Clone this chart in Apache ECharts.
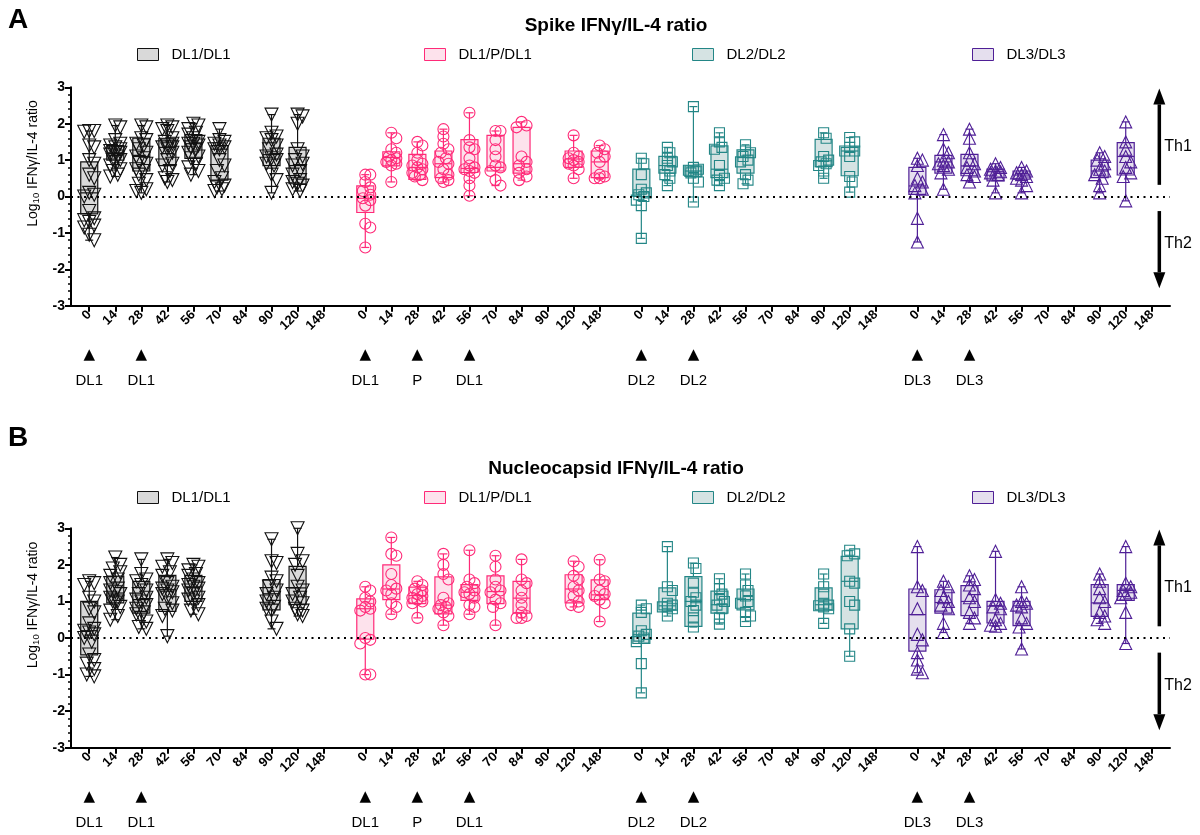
<!DOCTYPE html>
<html><head><meta charset="utf-8">
<script src="https://cdn.jsdelivr.net/npm/echarts@6/dist/echarts.min.js"></script>
<style>html,body{margin:0;padding:0;background:#fff}#c{width:1200px;height:835px}</style>
</head><body><div id="c"></div>
<script>
// ---------- DATA ----------
const tickLabels = ['0','14','28','42','56','70','84','90','120','148'];
const groupNames = ['DL1/DL1','DL1/P/DL1','DL2/DL2','DL3/DL3'];
// vaccination markers per group: [day, label]
const vaccDL1 = [['0','DL1'],['28','DL1']];
const vaccDL1P = [['0','DL1'],['28','P'],['56','DL1']];
const vaccDL2 = [['0','DL2'],['28','DL2']];
const vaccDL3 = [['0','DL3'],['28','DL3']];
const panelTitles = ['Spike IFNγ/IL-4 ratio','Nucleocapsid IFNγ/IL-4 ratio'];
const panelLetters = ['A','B'];
// Th1 / Th2 arrows: [label, arrow start, arrow tip, label y]
const thArrows = [['Th1', 0.32, 2.97, 1.37], ['Th2', -0.4, -2.52, -1.29]];
// each row: [day, Q1, median, Q3, individual values]
const spikeDL1 = [
 ['0',-0.48,0.1,0.95,[1.8,1.8,1.78,1.4,1.35,1.0,0.9,0.6,0.5,0.1,0.05,0.0,-0.4,-0.6,-0.65,-0.7,-0.8,-0.85,-1.05,-1.2]],
 ['14',1.0,1.2,1.4,[1.95,1.9,1.55,1.45,1.4,1.35,1.3,1.25,1.2,1.2,1.15,1.1,1.0,1.0,0.95,0.85,0.75,0.7,0.6,0.55]],
 ['28',0.7,1.1,1.6,[1.95,1.9,1.6,1.55,1.45,1.4,1.3,1.2,1.1,1.05,0.95,0.9,0.75,0.7,0.6,0.45,0.35,0.2,0.15,0.1]],
 ['42',0.85,1.35,1.6,[1.95,1.9,1.85,1.8,1.6,1.5,1.45,1.4,1.35,1.35,1.3,1.2,1.0,0.9,0.85,0.7,0.5,0.45,0.4]],
 ['56',1.05,1.45,1.7,[2.0,1.95,1.85,1.75,1.7,1.6,1.5,1.45,1.45,1.4,1.35,1.3,1.2,1.1,1.05,0.9,0.8,0.7,0.6]],
 ['70',0.45,1.3,1.4,[1.85,1.55,1.5,1.45,1.4,1.35,1.3,1.3,1.0,0.85,0.7,0.5,0.4,0.3,0.25,0.2,0.15]],
 ['90',0.85,1.15,1.6,[2.25,1.75,1.65,1.6,1.55,1.4,1.3,1.15,1.1,1.05,1.0,0.9,0.85,0.6,0.45,0.1]],
 ['120',0.35,0.85,1.35,[2.25,2.2,2.0,1.3,1.1,1.0,0.9,0.85,0.7,0.6,0.45,0.4,0.35,0.3,0.2,0.15]]
];
const spikeDL1P = [
 ['0',-0.44,-0.05,0.29,[0.6,0.6,0.4,0.25,0.15,0.05,-0.05,-0.1,-0.25,-0.75,-0.85,-1.4]],
 ['14',0.84,1.07,1.23,[1.75,1.6,1.3,1.2,1.1,1.05,1.0,0.95,0.9,0.85,0.4]],
 ['28',0.47,0.8,1.16,[1.5,1.4,1.2,1.0,0.9,0.85,0.8,0.75,0.65,0.6,0.55,0.45]],
 ['42',0.52,0.9,1.25,[1.85,1.65,1.45,1.3,1.2,1.05,0.95,0.9,0.75,0.6,0.5,0.45,0.4]],
 ['56',0.66,0.77,1.56,[2.3,1.55,1.35,1.3,1.05,0.85,0.8,0.75,0.7,0.65,0.5,0.3,0.02]],
 ['70',0.7,0.8,1.68,[1.8,1.8,1.55,1.3,1.1,0.85,0.8,0.7,0.45,0.3]],
 ['84',0.64,0.9,1.9,[2.05,1.95,1.9,1.1,0.95,0.85,0.75,0.65,0.55,0.45]],
 ['120',0.8,1.03,1.25,[1.68,1.2,1.1,1.05,1.0,0.95,0.9,0.85,0.75,0.5]],
 ['148',0.52,0.95,1.25,[1.4,1.3,1.2,1.1,0.95,0.6,0.55,0.5,0.5]]
];
const spikeDL2 = [
 ['0',0.0,0.1,0.75,[1.05,0.9,0.6,0.2,0.1,0.05,0.0,-0.1,-0.25,-1.15]],
 ['14',0.64,0.85,1.1,[1.35,1.2,1.05,0.95,0.85,0.7,0.6,0.5,0.3]],
 ['28',0.55,0.7,0.84,[2.47,0.8,0.75,0.72,0.7,0.68,0.65,0.5,0.4,-0.15]],
 ['42',0.52,0.75,1.39,[1.75,1.5,1.35,1.3,0.85,0.6,0.5,0.45,0.3]],
 ['56',0.64,1.07,1.28,[1.42,1.25,1.2,1.1,1.0,0.95,0.6,0.45,0.35]],
 ['90',0.82,0.98,1.57,[1.75,1.6,1.1,1.0,0.95,0.9,0.85,0.7,0.5]],
 ['120',0.57,1.25,1.35,[1.62,1.5,1.35,1.25,1.25,1.1,0.55,0.4,0.12]]
];
const spikeDL3 = [
 ['0',0.06,0.29,0.8,[1.05,1.0,0.85,0.5,0.4,0.3,0.2,0.1,-0.6,-1.25]],
 ['14',0.64,0.95,1.13,[1.7,1.3,1.2,1.0,0.95,0.9,0.85,0.75,0.65,0.2]],
 ['28',0.57,0.84,1.16,[1.85,1.6,1.2,1.0,0.9,0.8,0.7,0.6,0.55,0.4]],
 ['42',0.43,0.68,0.75,[0.9,0.8,0.75,0.7,0.68,0.65,0.6,0.45,0.1]],
 ['56',0.48,0.59,0.7,[0.8,0.7,0.65,0.6,0.55,0.5,0.45,0.3,0.1]],
 ['90',0.52,0.7,1.0,[1.2,1.1,1.0,0.9,0.75,0.7,0.6,0.5,0.3,0.1]],
 ['120',0.59,1.1,1.48,[2.05,1.5,1.3,1.1,0.95,0.8,0.65,0.55,-0.12]]
];
const nucDL1 = [
 ['0',-0.46,0.2,1.0,[1.55,1.5,1.45,1.1,1.0,0.8,0.7,0.4,0.25,0.2,0.15,0.1,0.0,-0.1,-0.45,-0.6,-0.7,-0.85,-1.0,-1.05]],
 ['14',0.96,1.23,1.69,[2.2,2.0,1.9,1.8,1.7,1.6,1.5,1.35,1.3,1.25,1.2,1.1,1.0,1.0,0.95,0.85,0.75,0.6,0.5]],
 ['28',0.68,1.05,1.55,[2.15,1.75,1.6,1.55,1.45,1.3,1.2,1.1,1.05,1.0,0.9,0.8,0.7,0.65,0.55,0.45,0.3,0.25]],
 ['42',0.73,1.32,1.71,[2.15,2.05,1.95,1.8,1.7,1.5,1.4,1.35,1.3,1.25,1.2,1.1,0.95,0.8,0.75,0.6,0.05]],
 ['56',1.0,1.4,1.71,[2.0,1.95,1.85,1.75,1.7,1.6,1.5,1.45,1.4,1.35,1.3,1.2,1.1,1.05,1.0,0.9,0.75,0.65]],
 ['90',0.77,1.21,1.6,[2.7,2.1,2.05,1.65,1.55,1.4,1.3,1.2,1.1,1.0,0.85,0.8,0.75,0.45,0.25]],
 ['120',0.91,1.37,1.96,[3.0,2.3,2.1,2.0,1.7,1.4,1.3,1.2,1.1,1.0,0.95,0.8,0.75,0.65,0.6]]
];
const nucDL1P = [
 ['0',-0.03,0.8,1.07,[1.4,1.3,1.1,1.0,0.85,0.8,0.75,0.0,-0.05,-0.15,-1.0,-1.0]],
 ['14',1.05,1.34,2.0,[2.75,2.3,2.25,1.75,1.45,1.35,1.3,1.2,0.95,0.85,0.65]],
 ['28',0.94,1.16,1.39,[1.55,1.45,1.35,1.3,1.2,1.15,1.1,1.05,1.0,0.95,0.55]],
 ['42',0.66,0.9,1.67,[2.3,2.0,1.75,1.6,1.1,0.95,0.9,0.85,0.8,0.7,0.6,0.35]],
 ['56',1.03,1.25,1.46,[2.4,1.6,1.5,1.4,1.3,1.25,1.2,1.1,0.9,0.85,0.65]],
 ['70',0.94,1.27,1.7,[2.25,1.95,1.6,1.4,1.3,1.25,1.05,0.95,0.85,0.35]],
 ['84',0.68,1.09,1.55,[2.15,1.6,1.5,1.3,1.1,0.9,0.7,0.6,0.55,0.55]],
 ['120',0.96,1.34,1.73,[2.1,1.95,1.7,1.6,1.4,1.3,1.15,1.0,0.9,0.85]],
 ['148',1.05,1.18,1.59,[2.14,1.6,1.55,1.3,1.2,1.15,1.05,0.95,0.45]]
];
const nucDL2 = [
 ['0',-0.15,0.09,0.68,[0.9,0.8,0.7,0.2,0.1,0.05,0.0,-0.1,-0.7,-1.5]],
 ['14',0.77,0.88,1.37,[2.5,1.4,1.3,0.95,0.9,0.85,0.85,0.8,0.6]],
 ['28',0.32,1.0,1.68,[2.05,1.9,1.5,1.25,1.1,1.0,0.9,0.75,0.55,0.3]],
 ['42',0.68,0.91,1.28,[1.62,1.35,1.2,1.05,1.0,0.9,0.8,0.55,0.38]],
 ['56',0.77,1.05,1.34,[1.75,1.45,1.3,1.15,1.0,0.95,0.7,0.6,0.45]],
 ['90',0.77,0.91,1.37,[1.75,1.4,1.2,0.95,0.9,0.88,0.85,0.8,0.4]],
 ['120',0.25,1.55,2.23,[2.4,2.3,2.25,1.55,1.5,1.0,0.9,0.25,-0.5]]
];
const nucDL3 = [
 ['0',-0.36,0.64,1.34,[2.5,1.4,1.3,0.8,0.1,-0.05,-0.4,-0.6,-0.85,-0.95]],
 ['14',0.68,0.97,1.32,[1.55,1.4,1.3,1.1,1.0,0.9,0.8,0.4,0.15]],
 ['28',0.61,1.0,1.43,[1.7,1.6,1.45,1.35,1.1,1.0,0.7,0.55,0.4]],
 ['42',0.41,0.87,1.0,[2.37,1.05,0.95,0.85,0.8,0.5,0.4,0.35,0.32]],
 ['56',0.34,0.88,1.0,[1.4,1.0,0.95,0.9,0.85,0.55,0.4,0.3,-0.3]],
 ['90',0.59,0.96,1.46,[1.75,1.55,1.35,1.1,1.0,0.7,0.6,0.5,0.4]],
 ['120',1.03,1.3,1.46,[2.5,1.5,1.4,1.3,1.25,1.2,1.1,0.7,-0.15]]
];

// ---------- LAYOUT / STYLE ----------
const FONT = '"Liberation Sans", Arial, sans-serif';
const groupOffsets = [0, 10.6, 21.2, 31.8];
const styles = [
 {color:'#111111', fill:'#d9d9d9', symbol:'triangle', rotate:180, size:13},
 {color:'#ff2a78', fill:'#fde2ec', symbol:'circle', rotate:0, size:11},
 {color:'#238686', fill:'#d5e3e3', symbol:'rect', rotate:0, size:10},
 {color:'#4f1f96', fill:'#e5dfee', symbol:'triangle', rotate:0, size:12}
];
const panels = [
 {top:87.3, height:218.4, groups:[spikeDL1, spikeDL1P, spikeDL2, spikeDL3], letterY:20, titleY:26, legendTop:47},
 {top:528.3, height:219.4, groups:[nucDL1, nucDL1P, nucDL2, nucDL3], letterY:438, titleY:469, legendTop:490}
];
const vaccs = [vaccDL1, vaccDL1P, vaccDL2, vaccDL3];
const legendLefts = [137, 424, 692, 972];
const arrowX = 41.09;

const tickPos = [], tickText = [];
groupOffsets.forEach(o => tickLabels.forEach((t,k) => { tickPos.push(+(o+k).toFixed(2)); tickText.push(t); }));
const vaccPos = [], vaccText = [];
vaccs.forEach((vs,g) => vs.forEach(([d,l]) => { vaccPos.push(+(groupOffsets[g]+tickLabels.indexOf(d)).toFixed(2)); vaccText.push(l); }));
function lookup(pos, txt, v) { for (let i=0;i<pos.length;i++) if (Math.abs(pos[i]-v)<0.01) return txt[i]; return ''; }

function swarmOffsets(vals, size) {
  const pxPerUnit = 36.5, step = 2.5, maxK = 2, minD = size*0.6;
  const order = vals.map((v,i)=>i).sort((a,b)=>vals[b]-vals[a]);
  const cands = [0]; for (let k=1;k<=maxK;k++) cands.push(k*step, -k*step);
  const placed = [], offs = new Array(vals.length).fill(0);
  order.forEach(i => {
    const y = vals[i]*pxPerUnit;
    let best = 0, bestD = -1;
    for (const c of cands) {
      let d = Infinity;
      for (const p of placed) d = Math.min(d, Math.hypot(c-p[0], y-p[1]));
      if (d >= minD) { best = c; break; }
      if (d > bestD) { bestD = d; best = c; }
    }
    placed.push([best, y]); offs[i] = best;
  });
  return offs;
}

function boxRenderer(st) {
  return function(params, api) {
    const x = api.value(0);
    const pLo = api.coord([x, api.value(1)]), pQ1 = api.coord([x, api.value(2)]),
          pMed = api.coord([x, api.value(3)]), pQ3 = api.coord([x, api.value(4)]), pHi = api.coord([x, api.value(5)]);
    const cx = pLo[0], w = 17, cap = 8;
    const ls = {stroke: st.color, lineWidth: 1.2};
    return {type:'group', children:[
      {type:'line', shape:{x1:cx,y1:pHi[1],x2:cx,y2:pQ3[1]}, style:ls},
      {type:'line', shape:{x1:cx,y1:pQ1[1],x2:cx,y2:pLo[1]}, style:ls},
      {type:'line', shape:{x1:cx-cap/2,y1:pHi[1],x2:cx+cap/2,y2:pHi[1]}, style:ls},
      {type:'line', shape:{x1:cx-cap/2,y1:pLo[1],x2:cx+cap/2,y2:pLo[1]}, style:ls},
      {type:'rect', shape:{x:cx-w/2, y:pQ3[1], width:w, height:pQ1[1]-pQ3[1]}, style:{fill:st.fill, stroke:st.color, lineWidth:1.2}},
      {type:'line', shape:{x1:cx-w/2,y1:pMed[1],x2:cx+w/2,y2:pMed[1]}, style:ls}
    ]};
  };
}
function arrowRenderer(params, api) {
  const p0 = api.coord([api.value(0), api.value(1)]);
  const p1 = api.coord([api.value(0), api.value(2)]);
  const pl = api.coord([api.value(0), api.value(3)]);
  const dir = p1[1] < p0[1] ? -1 : 1;  // -1 pointing up
  const headH = 16, headW = 12;
  const base = p1[1] - dir*headH;
  return {type:'group', children:[
    {type:'line', shape:{x1:p0[0], y1:p0[1], x2:p0[0], y2:base}, style:{stroke:'#000', lineWidth:3.5}},
    {type:'polygon', shape:{points:[[p1[0], p1[1]], [p1[0]-headW/2, base], [p1[0]+headW/2, base]]}, style:{fill:'#000'}},
    {type:'text', x:p0[0]+5, y:pl[1], style:{text:api.value(4), font:'16px ' + FONT, fill:'#000', textVerticalAlign:'middle'}}
  ]};
}

const grid = [], xAxis = [], yAxis = [], series = [], legend = [], graphic = [];
panels.forEach((p, pi) => {
  grid.push({left:71, right:30, top:p.top, height:p.height});
  xAxis.push({
    type:'value', gridIndex:pi, min:-0.7, max:41.5, position:'bottom',
    axisLine:{onZero:false, lineStyle:{color:'#000', width:2}},
    axisTick:{customValues:tickPos, length:6, lineStyle:{color:'#000', width:2}},
    axisLabel:{customValues:tickPos, rotate:45, margin:7, color:'#000', fontSize:13, fontWeight:'bold', fontFamily:FONT,
      formatter:v => lookup(tickPos, tickText, v)},
    splitLine:{show:false}
  });
  xAxis.push({
    type:'value', gridIndex:pi, min:-0.7, max:41.5, position:'bottom',
    axisLine:{show:false}, axisTick:{show:false}, splitLine:{show:false},
    axisLabel:{customValues:vaccPos, margin:41, color:'#000',
      formatter:v => '{tri|▲}\n{lab|' + lookup(vaccPos, vaccText, v) + '}',
      rich:{tri:{fontSize:15, lineHeight:16, fontFamily:'DejaVu Sans', color:'#000'},
            lab:{fontSize:15, lineHeight:36, fontFamily:FONT, color:'#000'}}}
  });
  yAxis.push({
    type:'value', gridIndex:pi, min:-3, max:3, interval:1,
    axisLine:{show:true, onZero:false, lineStyle:{color:'#000', width:2}},
    axisTick:{show:true, length:6, lineStyle:{color:'#000', width:2}},
    minorTick:{show:true, splitNumber:5, length:3, lineStyle:{color:'#000', width:1.5}},
    axisLabel:{color:'#000', fontSize:14, fontWeight:'bold', fontFamily:FONT, margin:6},
    splitLine:{show:false},
    name:'Log{sub|10} IFNγ/IL-4 ratio', nameLocation:'middle', nameRotate:90, nameGap:27,
    nameTextStyle:{fontSize:14, color:'#000', fontFamily:FONT, padding:[0,0,0,66],
      rich:{sub:{fontSize:9.5, fontFamily:FONT, color:'#000', verticalAlign:'bottom', padding:[8,0,0,0]}}}
  });
  p.groups.forEach((rows, g) => {
    const st = styles[g];
    const boxData = rows.map(r => {
      const x = groupOffsets[g] + tickLabels.indexOf(r[0]);
      return [x, Math.min(...r[4]), r[1], r[2], r[3], Math.max(...r[4])];
    });
    series.push({
      type:'custom', name:groupNames[g], xAxisIndex:pi*2, yAxisIndex:pi, silent:true,
      dimensions:['x','min','q1','med','q3','max'], encode:{x:0, y:[1,2,3,4,5]},
      renderItem: boxRenderer(st), data: boxData, itemStyle:{color:st.fill, borderColor:st.color}
    });
    const pts = [];
    rows.forEach(r => {
      const x = groupOffsets[g] + tickLabels.indexOf(r[0]);
      const offs = swarmOffsets(r[4], st.size);
      r[4].forEach((v,i) => pts.push({value:[x, v], symbolOffset:[offs[i], 0]}));
    });
    series.push({
      type:'scatter', name:groupNames[g], xAxisIndex:pi*2, yAxisIndex:pi, silent:true,
      symbol:st.symbol, symbolRotate:st.rotate, symbolSize:st.size,
      itemStyle:{color:'rgba(255,255,255,0)', borderColor:st.color, borderWidth:1.1, opacity:1},
      data: pts, z:3
    });
    legend.push({
      left:legendLefts[g], top:p.legendTop, padding:0, itemWidth:21, itemHeight:12, selectedMode:false,
      textStyle:{fontSize:15, color:'#000', fontFamily:FONT, padding:[0,0,0,8]},
      data:[{name:groupNames[g], icon:'rect', itemStyle:{color:st.fill, borderColor:st.color, borderWidth:1}}]
    });
  });
  // zero reference line
  series.push({
    type:'scatter', xAxisIndex:pi*2, yAxisIndex:pi, data:[], silent:true,
    markLine:{silent:true, symbol:['none','none'], label:{show:false},
      lineStyle:{color:'#000', type:[2,4.5], width:2}, data:[{yAxis:0}]}
  });
  // Th1 / Th2 arrows
  series.push({
    type:'custom', xAxisIndex:pi*2, yAxisIndex:pi, silent:true, renderItem:arrowRenderer,
    data: thArrows.map(a => [arrowX, a[1], a[2], a[3], a[0]])
  });
  graphic.push({type:'text', x:8, y:p.letterY, style:{text:panelLetters[pi], font:'bold 28px ' + FONT, fill:'#000', textVerticalAlign:'middle'}});
  graphic.push({type:'text', x:616, y:p.titleY, style:{text:panelTitles[pi], font:'bold 19px ' + FONT, fill:'#000', textAlign:'center', textVerticalAlign:'middle'}});
});

const chart = echarts.init(document.getElementById('c'));
chart.setOption({
  animation:false, backgroundColor:'#fff',
  grid, xAxis, yAxis, series, legend, graphic
});
</script></body></html>
